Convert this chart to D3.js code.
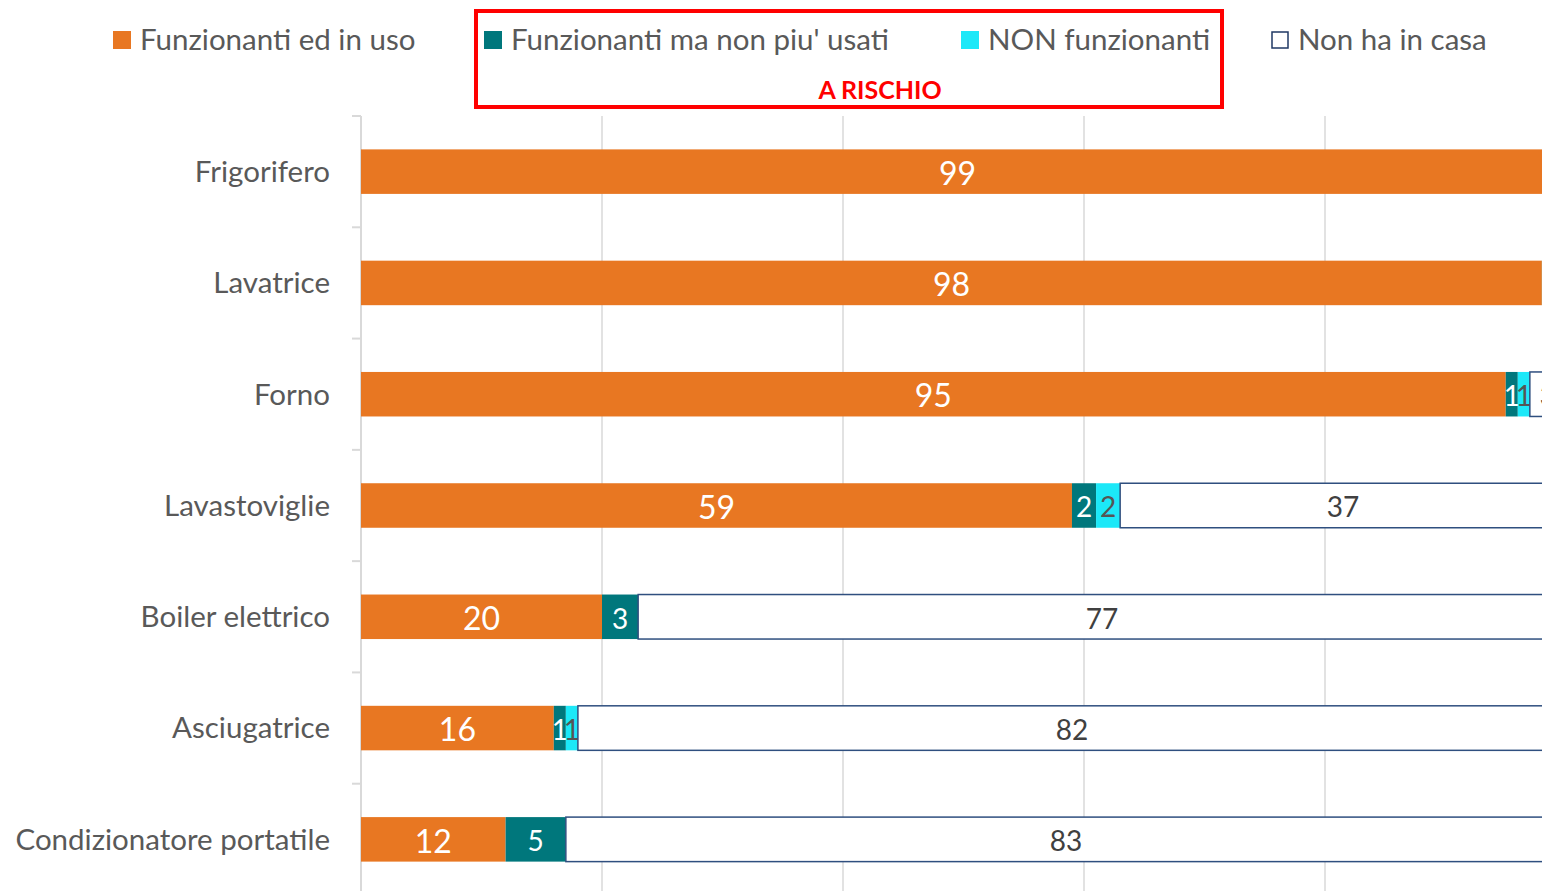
<!DOCTYPE html>
<html>
<head>
<meta charset="utf-8">
<script src="https://cdn.jsdelivr.net/npm/d3@7"></script>
<style>
  body { margin: 0; background: #fff; overflow: hidden; }
  svg { display: block; font-family: Lato, "Open Sans", sans-serif; }
</style>
</head>
<body>
<script>
// data
const categories = ["Frigorifero", "Lavatrice", "Forno", "Lavastoviglie", "Boiler elettrico", "Asciugatrice", "Condizionatore portatile"];
const inUso    = [99, 98, 95, 59, 20, 16, 12];
const nonUsati = [0, 0, 1, 2, 3, 1, 5];
const nonFunz  = [0, 1, 1, 2, 0, 1, 0];
const nonHa    = [1, 1, 3, 37, 77, 82, 83];
const seriesNames = ["Funzionanti ed in uso", "Funzionanti ma non piu' usati", "NON funzionanti", "Non ha in casa"];
const xTicks = [0, 20, 40, 60, 80, 100];

const colors = ["#E87722", "#00777C", "#1CE8F8", "#FFFFFF"];
const labelColors = ["#fff", "#fff", "#555", "#404040"];

const w = 1542, h = 891;

const svg = d3.select("body").append("svg")
  .attr("width", w)
  .attr("height", h);

// the plot runs past the right edge of the page (100 sits off-screen)
const x = d3.scaleLinear().domain([0, 100]).range([361, 1566]);
const y = d3.scaleBand().domain(categories).range([116, 895])
  .paddingInner(0.6).paddingOuter(0.3);

// grid lines
svg.append("g").selectAll("line")
  .data(xTicks.filter(d => d > 0))
  .enter().append("line")
  .attr("x1", d => x(d)).attr("x2", d => x(d))
  .attr("y1", 116).attr("y2", h)
  .attr("stroke", "#D9D9D9").attr("stroke-width", 1.5);

// y axis line + ticks at band boundaries
svg.append("line")
  .attr("x1", 361).attr("x2", 361).attr("y1", 116).attr("y2", h)
  .attr("stroke", "#D9D9D9").attr("stroke-width", 2);
const step = y.step();
svg.append("g").selectAll("line")
  .data(d3.range(categories.length + 1))
  .enter().append("line")
  .attr("x1", 352).attr("x2", 361)
  .attr("y1", i => 116 + i * step).attr("y2", i => 116 + i * step)
  .attr("stroke", "#D9D9D9").attr("stroke-width", 2);

// category labels
svg.append("g").selectAll("text")
  .data(categories)
  .enter().append("text")
  .attr("x", 330)
  .attr("y", d => y(d) + y.bandwidth() / 2)
  .attr("dy", "0.35em")
  .attr("text-anchor", "end")
  .attr("font-size", 29.5)
  .attr("fill", "#595959")
  .text(d => d);

// stacked data
const table = categories.map((c, i) => ({
  cat: c, s0: inUso[i], s1: nonUsati[i], s2: nonFunz[i], s3: nonHa[i]
}));
const stack = d3.stack().keys(["s0", "s1", "s2", "s3"])(table);

const layers = svg.append("g").selectAll("g")
  .data(stack)
  .enter().append("g");

layers.selectAll("rect")
  .data((d, k) => d.filter(p => p[1] - p[0] > 0).map(p => ({ p, k })))
  .enter().append("rect")
  .attr("x", d => x(d.p[0]))
  .attr("y", d => y(d.p.data.cat))
  .attr("width", d => x(d.p[1]) - x(d.p[0]))
  .attr("height", y.bandwidth())
  .attr("fill", d => colors[d.k])
  .attr("stroke", d => d.k === 3 ? "#2F4F7F" : "none")
  .attr("stroke-width", 1.5);

// labels only for segments that start inside the page
layers.selectAll("text")
  .data((d, k) => d.filter(p => p[1] - p[0] > 0 && x(p[0]) + 3 < w).map(p => ({ p, k })))
  .enter().append("text")
  .attr("x", d => x((d.p[0] + d.p[1]) / 2))
  .attr("y", d => y(d.p.data.cat) + y.bandwidth() / 2 + 2)
  .attr("dy", "0.35em")
  .attr("text-anchor", "middle")
  .attr("font-size", d => d.k === 0 ? 32 : 28)
  .attr("fill", d => labelColors[d.k])
  .text(d => d.p[1] - d.p[0]);

// legend
const legendX = [113, 484, 961, 1271];
const legend = svg.append("g").selectAll("g")
  .data(seriesNames)
  .enter().append("g")
  .attr("transform", (d, i) => `translate(${legendX[i]},31)`);
legend.append("rect")
  .attr("x", (d, i) => i === 3 ? 1 : 0).attr("y", (d, i) => i === 3 ? 1 : 0)
  .attr("width", (d, i) => i === 3 ? 16 : 18)
  .attr("height", (d, i) => i === 3 ? 16 : 18)
  .attr("fill", (d, i) => colors[i])
  .attr("stroke", (d, i) => i === 3 ? "#1F3864" : "none")
  .attr("stroke-width", 1.5);
legend.append("text")
  .attr("x", 27).attr("y", 9)
  .attr("dy", "0.35em")
  .attr("font-size", 29.5)
  .attr("fill", "#595959")
  .text(d => d);

// red "A RISCHIO" box
svg.append("rect")
  .attr("x", 476).attr("y", 11)
  .attr("width", 746).attr("height", 96)
  .attr("fill", "none")
  .attr("stroke", "#FF0000").attr("stroke-width", 4);
svg.append("text")
  .attr("x", 880).attr("y", 90)
  .attr("dy", "0.35em")
  .attr("text-anchor", "middle")
  .attr("font-size", 25)
  .attr("font-weight", "bold")
  .attr("fill", "#FF0000")
  .text("A RISCHIO");
</script>
</body>
</html>
